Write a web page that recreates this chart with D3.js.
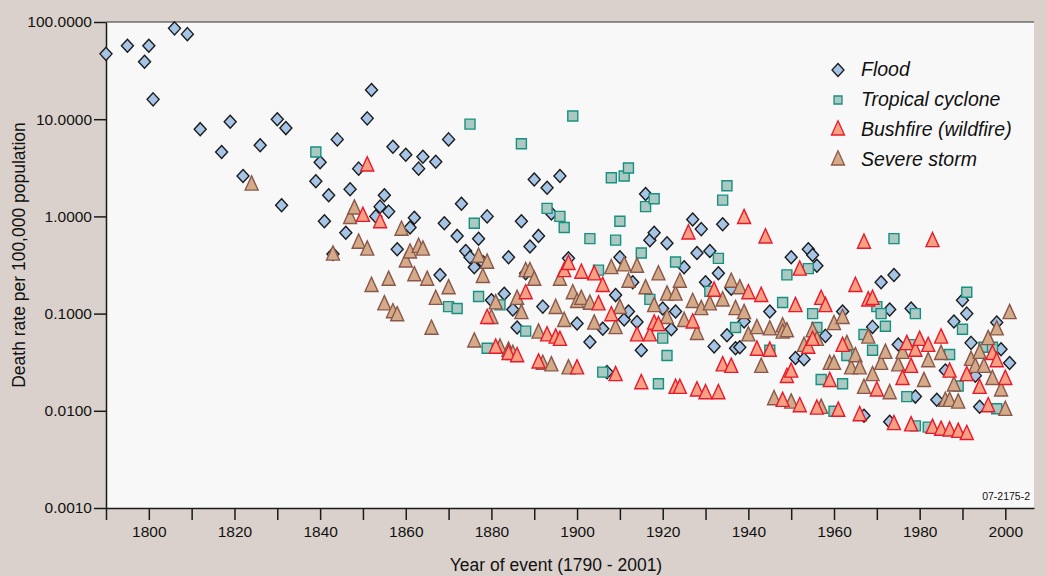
<!DOCTYPE html>
<html>
<head>
<meta charset="utf-8">
<script src="https://cdn.jsdelivr.net/npm/d3@7"></script>
<style>
  body { margin: 0; background: #dbd1cc; }
  svg { display: block; font-family: "Liberation Sans", Arial, Helvetica, sans-serif; }
</style>
</head>
<body>
<svg id="chart" width="1046" height="576"></svg>
<script>
// [year, death rate per 100,000]
const flood = [[1790,47],[1795,57],[1799,39],[1800,57],[1801,16],[1806,86],[1809,75],[1812,7.9],[1817,4.6],[1819,9.4],[1822,2.6],[1826,5.4],[1830,10],[1831,1.3],[1832,8.1],[1839,2.3],[1840,3.6],[1841,0.89],[1842,1.65],[1843,0.41],[1844,6.2],[1846,0.68],[1847,1.9],[1849,3.1],[1851,10.2],[1852,20],[1853,1.0],[1854,1.26],[1855,1.65],[1856,1.12],[1857,5.2],[1858,0.46],[1860,4.3],[1861,0.77],[1862,0.97],[1863,3.1],[1864,4.1],[1867,3.65],[1868,0.25],[1869,0.85],[1870,6.2],[1872,0.63],[1873,1.35],[1874,0.44],[1875,0.38],[1876,0.3],[1877,0.59],[1878,0.34],[1879,1.0],[1880,0.137],[1883,0.16],[1884,0.38],[1885,0.11],[1886,0.072],[1887,0.89],[1888,0.26],[1889,0.49],[1890,2.4],[1891,0.63],[1892,0.118],[1893,1.97],[1894,1.07],[1896,2.6],[1898,0.37],[1900,0.079],[1903,0.051],[1906,0.07],[1907,0.025],[1909,0.155],[1910,0.38],[1911,0.087],[1912,0.105],[1913,0.21],[1914,0.082],[1915,0.042],[1916,1.7],[1917,0.57],[1918,0.68],[1920,0.113],[1921,0.53],[1922,0.069],[1923,0.105],[1925,0.3],[1927,0.93],[1928,0.42],[1929,0.74],[1930,0.21],[1931,0.44],[1932,0.046],[1933,0.26],[1934,0.83],[1935,0.06],[1936,0.18],[1937,0.044],[1938,0.045],[1939,0.083],[1945,0.105],[1950,0.38],[1951,0.035],[1953,0.034],[1954,0.46],[1955,0.4],[1956,0.31],[1958,0.059],[1962,0.105],[1967,0.0089],[1969,0.073],[1971,0.21],[1973,0.11],[1973,0.0077],[1974,0.25],[1975,0.048],[1978,0.113],[1979,0.014],[1984,0.013],[1986,0.026],[1988,0.083],[1990,0.137],[1991,0.1],[1992,0.05],[1993,0.023],[1994,0.011],[1998,0.081],[1999,0.043],[2001,0.031]];

const cyclone = [[1839,4.6],[1870,0.118],[1872,0.113],[1875,8.9],[1876,0.85],[1877,0.15],[1879,0.044],[1882,0.123],[1887,5.6],[1888,0.066],[1893,1.21],[1896,1.0],[1897,0.77],[1899,10.8],[1903,0.59],[1905,0.28],[1906,0.025],[1908,2.5],[1909,0.57],[1910,0.89],[1911,2.6],[1912,3.15],[1915,0.42],[1916,1.26],[1917,0.14],[1918,1.52],[1919,0.019],[1920,0.056],[1921,0.037],[1923,0.34],[1931,0.17],[1933,0.37],[1934,1.47],[1935,2.07],[1937,0.072],[1945,0.042],[1948,0.13],[1949,0.25],[1954,0.29],[1955,0.1],[1956,0.072],[1957,0.021],[1960,0.0099],[1962,0.019],[1963,0.037],[1967,0.061],[1969,0.042],[1970,0.118],[1971,0.1],[1972,0.074],[1974,0.59],[1977,0.014],[1978,0.048],[1979,0.1],[1979,0.007],[1982,0.0068],[1987,0.038],[1989,0.018],[1990,0.069],[1991,0.166],[1995,0.045],[1997,0.045],[1998,0.0105]];

const bushfire = [[1850,1.0],[1851,3.3],[1854,0.86],[1879,0.089],[1881,0.044],[1884,0.038],[1886,0.036],[1888,0.16],[1891,0.031],[1893,0.059],[1895,0.056],[1896,0.053],[1897,0.27],[1898,0.32],[1900,0.027],[1901,0.26],[1904,0.25],[1905,0.123],[1906,0.19],[1908,0.095],[1909,0.023],[1914,0.059],[1915,0.019],[1917,0.059],[1918,0.078],[1919,0.075],[1923,0.017],[1924,0.017],[1926,0.66],[1927,0.08],[1928,0.016],[1930,0.015],[1932,0.17],[1933,0.015],[1934,0.029],[1936,0.028],[1939,0.95],[1940,0.16],[1942,0.042],[1943,0.15],[1944,0.6],[1945,0.041],[1948,0.0125],[1949,0.022],[1950,0.025],[1951,0.118],[1952,0.28],[1952,0.011],[1954,0.044],[1955,0.053],[1956,0.0104],[1957,0.14],[1958,0.118],[1959,0.02],[1961,0.0099],[1962,0.046],[1965,0.19],[1966,0.0089],[1967,0.53],[1968,0.135],[1969,0.14],[1970,0.016],[1974,0.0072],[1976,0.021],[1977,0.048],[1978,0.028],[1978,0.007],[1979,0.041],[1980,0.053],[1982,0.046],[1983,0.55],[1983,0.0066],[1985,0.056],[1985,0.0063],[1987,0.025],[1987,0.0062],[1989,0.006],[1991,0.023],[1991,0.0057],[1994,0.017],[1996,0.011],[1997,0.038],[1998,0.032],[2000,0.021]];

const storm = [[1824,2.1],[1843,0.4],[1847,0.95],[1848,1.19],[1849,0.53],[1851,0.45],[1852,0.19],[1855,0.123],[1856,0.22],[1857,0.102],[1858,0.095],[1859,0.72],[1860,0.34],[1861,0.42],[1862,0.245],[1863,0.48],[1864,0.45],[1865,0.22],[1866,0.069],[1867,0.14],[1870,0.18],[1876,0.051],[1877,0.38],[1878,0.235],[1879,0.33],[1880,0.089],[1881,0.126],[1882,0.044],[1884,0.041],[1885,0.038],[1886,0.14],[1887,0.1],[1888,0.27],[1889,0.27],[1890,0.22],[1891,0.063],[1892,0.03],[1894,0.029],[1895,0.113],[1896,0.22],[1897,0.083],[1898,0.027],[1899,0.16],[1900,0.13],[1901,0.14],[1903,0.125],[1904,0.078],[1908,0.29],[1909,0.07],[1910,0.113],[1911,0.31],[1912,0.21],[1914,0.3],[1916,0.18],[1918,0.118],[1919,0.25],[1921,0.089],[1921,0.155],[1923,0.155],[1924,0.21],[1925,0.083],[1927,0.13],[1928,0.061],[1929,0.11],[1931,0.123],[1934,0.135],[1936,0.21],[1937,0.11],[1938,0.18],[1939,0.1],[1940,0.059],[1942,0.07],[1943,0.028],[1945,0.068],[1946,0.013],[1948,0.073],[1948,0.063],[1949,0.065],[1950,0.012],[1953,0.046],[1955,0.065],[1956,0.053],[1957,0.0106],[1959,0.03],[1960,0.03],[1960,0.077],[1962,0.089],[1963,0.048],[1964,0.027],[1965,0.036],[1966,0.027],[1967,0.017],[1968,0.056],[1969,0.023],[1971,0.03],[1972,0.039],[1973,0.015],[1975,0.029],[1976,0.039],[1981,0.02],[1982,0.032],[1985,0.038],[1986,0.0125],[1987,0.0125],[1988,0.018],[1989,0.012],[1992,0.033],[1993,0.028],[1994,0.039],[1995,0.028],[1996,0.054],[1997,0.021],[1998,0.068],[1999,0.016],[2000,0.0101],[2001,0.1]];

const yTicks = [0.001, 0.01, 0.1, 1, 10, 100];
const xTicks = d3.range(1790, 2001, 10);
const legendLabels = ["Flood", "Tropical cyclone", "Bushfire (wildfire)", "Severe storm"];

const svg = d3.select("#chart");
const x = d3.scaleLinear().domain([1790, 2006.7]).range([106, 1034]);
const y = d3.scaleLog().domain([0.001, 100]).range([508, 22]);

// marker shapes
const shapes = {
  diamond: "M0,-6.5L6,0L0,6.5L-6,0Z",
  square: "M-5,-5H5V5H-5Z",
  smallSquare: "M-4,-4H4V4H-4Z",
  triangle: "M0,-9.2L6.5,5L-6.5,5Z"
};
const series = [
  { data: flood, shape: "diamond", fill: "#a6c4e6", stroke: "#1b1b1b" },
  { data: cyclone, shape: "square", fill: "#a9c9c2", stroke: "#17907f" },
  { data: storm, shape: "triangle", fill: "#d5aa88", stroke: "#8a584a" },
  { data: bushfire, shape: "triangle", fill: "#f7a083", stroke: "#e8192b" }
];

svg.append("rect")
  .attr("x", 106).attr("y", 22)
  .attr("width", 928).attr("height", 486)
  .attr("fill", "#f8f8f8");
svg.append("line")
  .attr("x1", 106).attr("x2", 1034).attr("y1", 22).attr("y2", 22)
  .attr("stroke", "#333").attr("stroke-width", 1.2);

const xAxis = svg.append("g")
  .attr("transform", "translate(0,508)")
  .call(d3.axisBottom(x).tickValues(xTicks).tickSize(12).tickSizeOuter(0).tickPadding(6)
    .tickFormat((d) => (d % 20 === 0 ? d : "")));
const yAxis = svg.append("g")
  .attr("transform", "translate(106,0)")
  .call(d3.axisLeft(y).tickValues(yTicks).tickSize(12).tickSizeOuter(0).tickPadding(2)
    .tickFormat(d3.format(".4f")));
[xAxis, yAxis].forEach((g) => {
  g.selectAll("path, line").attr("stroke", "#1a1a1a").attr("stroke-width", 1.5);
  g.selectAll("text").attr("font-size", 15.5).attr("fill", "#111").attr("font-family", null);
});

svg.append("text")
  .attr("x", 556).attr("y", 571)
  .attr("text-anchor", "middle").attr("font-size", 17.5).attr("fill", "#111")
  .text("Year of event (1790 - 2001)");
svg.append("text")
  .attr("transform", "translate(25,255) rotate(-90)")
  .attr("text-anchor", "middle").attr("font-size", 17.5).attr("fill", "#111")
  .text("Death rate per 100,000 population");
svg.append("text")
  .attr("x", 1030).attr("y", 500)
  .attr("text-anchor", "end").attr("font-size", 10.5).attr("fill", "#111")
  .text("07-2175-2");

series.forEach((s) => {
  svg.append("g")
    .selectAll("path")
    .data(s.data)
    .join("path")
    .attr("transform", (d) => `translate(${x(d[0])},${y(d[1])})`)
    .attr("d", shapes[s.shape])
    .attr("fill", s.fill)
    .attr("stroke", s.stroke)
    .attr("stroke-width", 1.4);
});

// legend (order: flood, cyclone, bushfire, storm)
const legendSeries = [series[0], series[1], series[3], series[2]];
const legend = svg.append("g").attr("transform", "translate(838,0)");
legendSeries.forEach((s, i) => {
  const cy = 70 + i * 30;
  legend.append("path")
    .attr("transform", `translate(0,${cy})`)
    .attr("d", s.shape === "square" ? shapes.smallSquare : shapes[s.shape])
    .attr("fill", s.fill).attr("stroke", s.stroke).attr("stroke-width", 1.3);
  legend.append("text")
    .attr("x", 23).attr("y", cy + 6)
    .attr("font-size", 19.5).attr("font-style", "italic").attr("fill", "#111")
    .text(legendLabels[i]);
});
</script>
</body>
</html>
